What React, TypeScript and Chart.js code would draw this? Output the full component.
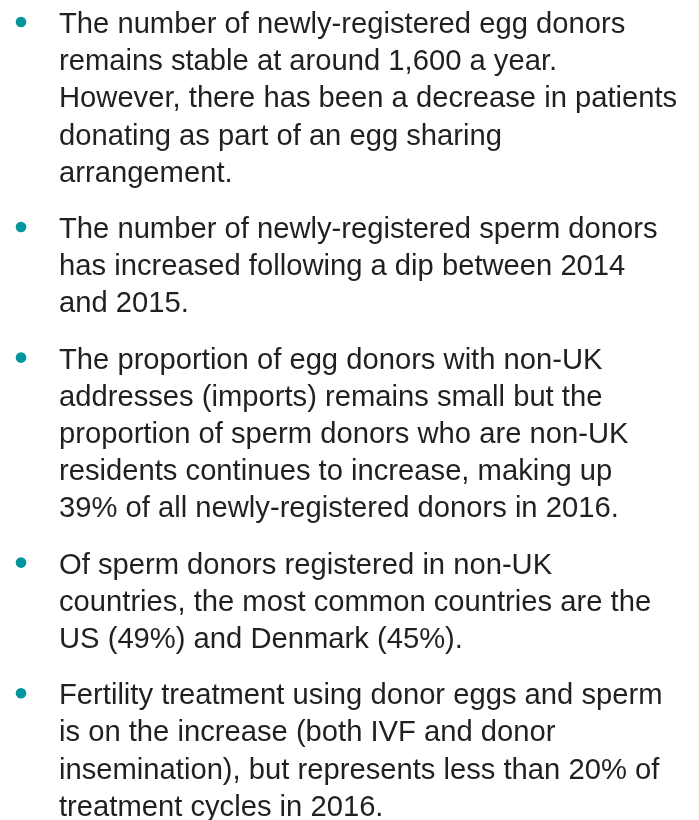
import React, { useEffect, useRef } from "react";
import { Chart, registerables } from "chart.js";

Chart.register(...registerables);

// Bullet paragraphs, one array of lines per bullet (line breaks as in the reference)
const bullet1: string[] = [
  "The number of newly-registered egg donors",
  "remains stable at around 1,600 a year.",
  "However, there has been a decrease in patients",
  "donating as part of an egg sharing",
  "arrangement.",
];
const bullet2: string[] = [
  "The number of newly-registered sperm donors",
  "has increased following a dip between 2014",
  "and 2015.",
];
const bullet3: string[] = [
  "The proportion of egg donors with non-UK",
  "addresses (imports) remains small but the",
  "proportion of sperm donors who are non-UK",
  "residents continues to increase, making up",
  "39% of all newly-registered donors in 2016.",
];
const bullet4: string[] = [
  "Of sperm donors registered in non-UK",
  "countries, the most common countries are the",
  "US (49%) and Denmark (45%).",
];
const bullet5: string[] = [
  "Fertility treatment using donor eggs and sperm",
  "is on the increase (both IVF and donor",
  "insemination), but represents less than 20% of",
  "treatment cycles in 2016.",
];

const bullets: string[][] = [bullet1, bullet2, bullet3, bullet4, bullet5];

const W = 699;
const H = 820;

const bulletListPlugin = {
  id: "bulletList",
  afterDraw(chart: any) {
    const ctx: CanvasRenderingContext2D = chart.ctx;
    const fontSize = 29.2;
    const lineH = 37.2;
    const gap = 19;
    const textX = 59;
    const dotX = 21;
    const dotR = 5.3;
    let y = 33;
    ctx.save();
    ctx.font = `${fontSize}px "Liberation Sans", Arial, Helvetica, sans-serif`;
    ctx.textBaseline = "alphabetic";
    ctx.textAlign = "left";
    bullets.forEach((lines) => {
      ctx.fillStyle = "#00969b";
      ctx.beginPath();
      ctx.arc(dotX, y - 11, dotR, 0, Math.PI * 2);
      ctx.fill();
      ctx.fillStyle = "#231f20";
      lines.forEach((line, i) => {
        ctx.fillText(line, textX, y);
        if (i < lines.length - 1) y += lineH;
      });
      y += lineH + gap;
    });
    ctx.restore();
  },
};

export default function App() {
  const ref = useRef<HTMLCanvasElement | null>(null);
  useEffect(() => {
    if (!ref.current) return;
    const chart = new Chart(ref.current, {
      type: "scatter",
      data: { datasets: [] },
      options: {
        animation: false,
        responsive: false,
        devicePixelRatio: 1,
        layout: { padding: 0 },
        plugins: { legend: { display: false }, tooltip: { enabled: false } },
        scales: { x: { display: false }, y: { display: false } },
      },
      plugins: [bulletListPlugin],
    });
    return () => chart.destroy();
  }, []);
  return (
    <div style={{ position: "fixed", left: 0, top: 0, width: W, height: H, background: "#ffffff" }}>
      <canvas ref={ref} width={W} height={H} style={{ display: "block", width: W, height: H }} />
    </div>
  );
}
